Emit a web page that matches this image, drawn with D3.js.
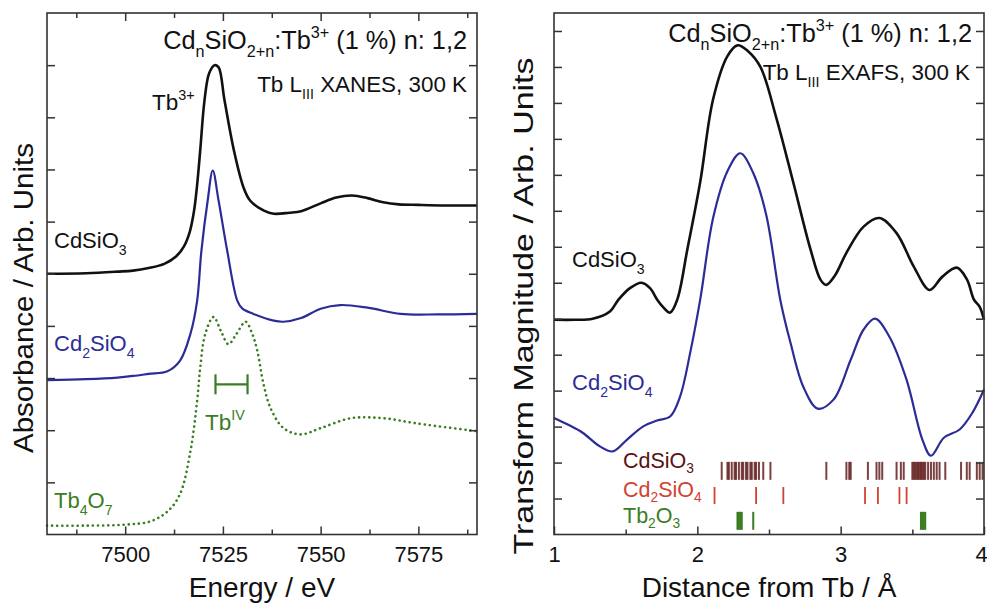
<!DOCTYPE html>
<html>
<head>
<meta charset="utf-8">
<script src="https://cdn.jsdelivr.net/npm/d3@7"></script>
<style>
  body { margin: 0; background: #fff; }
  text { font-family: "Liberation Sans", Arial, sans-serif; white-space: pre; }
</style>
</head>
<body>
<div id="chart"></div>
<script>
// ---- XANES (left panel): [energy eV, absorbance arb.] ----
var xanesCdSiO3 = [[7480,5.0],[7490,5.01],[7498,5.04],[7502,5.06],[7506,5.11],[7510,5.19],[7513,5.33],
  [7515,5.52],[7516.5,5.8],[7517.6,6.2],[7518.4,6.7],[7519.2,7.37],[7520.3,8.33],[7521.5,8.85],[7522.9,9.0],
  [7523.9,8.96],[7525.4,8.33],[7527.8,7.37],[7530.3,6.65],[7532,6.4],[7535.5,6.21],[7538,6.15],
  [7542,6.17],[7545,6.2],[7550,6.35],[7554,6.46],[7558,6.5],[7562,6.45],[7566,6.37],[7570,6.33],
  [7575,6.32],[7582,6.31],[7590,6.31]];
var xanesCd2SiO4 = [[7480,2.96],[7490,2.98],[7498,3.01],[7502,3.04],[7506,3.08],[7510.8,3.13],[7514,3.33],
  [7516.7,3.85],[7518.4,4.48],[7519.5,5.44],[7521.1,6.4],[7522.4,6.98],[7523.9,6.4],[7526.1,5.44],
  [7528.7,4.48],[7530,4.33],[7532.8,4.23],[7538,4.1],[7540.5,4.08],[7545,4.15],[7550,4.33],[7555,4.4],
  [7562,4.35],[7570.5,4.23],[7580,4.22],[7590,4.23]];
var xanesTb4O7 = [[7480,0.17],[7490,0.17],[7500,0.19],[7506.4,0.25],[7510.8,0.44],[7514,0.77],[7516.7,1.6],
  [7518.4,2.56],[7519.2,3.2],[7520.5,3.85],[7522.6,4.17],[7524.5,3.9],[7526.4,3.65],[7528.5,3.85],
  [7530.8,4.08],[7532.5,3.85],[7533.8,3.52],[7535.4,2.88],[7537.2,2.42],[7540.5,2.04],[7544.9,1.92],
  [7550,2.04],[7557.7,2.23],[7566,2.23],[7574.6,2.13],[7590,1.98]];
var tbIVRange = [7523.1, 7531.3];
var tbIVLevel = 2.88;
var energyTicks = [7500, 7525, 7550, 7575];
var energyMinor = [7487.5, 7512.5, 7537.5, 7562.5, 7587.5];

// ---- EXAFS (right panel): [distance A, magnitude arb.] ----
var exafsCdSiO3 = [[1.0,5.97],[1.15,5.97],[1.27,6.0],[1.39,6.2],[1.45,6.53],[1.53,6.85],[1.61,7.0],
  [1.67,6.85],[1.72,6.53],[1.76,6.33],[1.81,6.17],[1.86,6.53],[1.93,7.92],[2.02,9.8],[2.11,12.1],
  [2.21,13.3],[2.28,13.6],[2.35,13.45],[2.44,13.0],[2.55,11.6],[2.67,9.78],[2.79,7.92],[2.86,7.08],
  [2.9,6.94],[2.96,7.2],[3.04,7.83],[3.16,8.56],[3.27,8.8],[3.39,8.38],[3.51,7.45],[3.62,6.8],
  [3.71,7.17],[3.81,7.42],[3.88,7.1],[3.93,6.53],[3.97,6.33],[4.0,5.97]];
var exafsCd2SiO4 = [[1.0,3.24],[1.1,3.05],[1.2,2.83],[1.32,2.45],[1.41,2.31],[1.51,2.64],[1.62,3.0],
  [1.72,3.17],[1.81,3.28],[1.88,3.84],[1.95,5.05],[2.02,6.53],[2.11,8.8],[2.21,10.1],[2.3,10.6],
  [2.39,10.05],[2.48,8.9],[2.58,6.5],[2.65,5.33],[2.74,4.1],[2.84,3.5],[2.95,3.75],[3.07,4.86],
  [3.16,5.7],[3.24,6.0],[3.34,5.5],[3.46,4.3],[3.57,2.64],[3.63,2.19],[3.72,2.69],[3.83,2.92],
  [3.92,3.39],[4.0,4.03]];
var sticksCdSiO3 = [2.17,2.21,2.22,2.24,2.26,2.27,2.29,2.31,2.32,2.34,2.35,2.37,2.38,2.40,2.41,2.43,
  2.46,2.51,2.90,3.04,3.06,3.07,3.19,3.25,3.27,3.29,3.39,3.42,3.44,3.50,3.51,3.52,3.53,3.54,3.55,
  3.56,3.57,3.58,3.59,3.61,3.63,3.65,3.67,3.69,3.73,3.84,3.88,3.90,3.95,3.97,3.99];
var sticksCd2SiO4 = [2.12,2.41,2.60,3.17,3.26,3.41,3.46];
var sticksTb2O3 = [2.28,2.29,2.30,2.31,2.39,3.56,3.57,3.58,3.59];
var distanceTicks = [1, 2, 3, 4];
var distanceMinor = [1.5, 2.5, 3.5];

var black = "#111", blue = "#2c2c96", green = "#3a7d22", maroon = "#5a1212", red = "#d1432f";

var svg = d3.select("#chart").append("svg")
    .attr("width", 987)
    .attr("height", 604);

var x1 = d3.scaleLinear().domain([7480, 7590]).range([47, 477]);
var y1 = d3.scaleLinear().domain([0, 10]).range([534.5, 13]);
var x2 = d3.scaleLinear().domain([1, 4]).range([554, 984]);
var y2 = d3.scaleLinear().domain([0, 14.5]).range([534.5, 13]);

// text with sub/superscripts, parts = [[text, "sub"|"sup"|null], ...]
function rich(x, y, parts, size, color, anchor, subShift) {
  var t = svg.append("text")
      .attr("x", x).attr("y", y)
      .attr("font-size", size)
      .attr("fill", color)
      .attr("text-anchor", anchor || "start");
  var shift = 0;
  parts.forEach(function(p) {
    var target = p[1] === "sub" ? size * (subShift || 0.32) : p[1] === "sup" ? -size * 0.45 : 0;
    t.append("tspan")
      .attr("dy", target - shift)
      .attr("font-size", p[1] ? size * 0.64 : size)
      .text(p[0]);
    shift = target;
  });
  return t;
}

function frame(x, y, ticksTop) {
  var xr = x.range(), yr = y.range();
  var g = svg.append("g");
  var yt = d3.range(1, Math.floor(y.domain()[1]) + 1).filter(function(d) { return d < y.domain()[1]; });

  g.append("g").attr("transform", "translate(0," + yr[0] + ")")
    .call(d3.axisBottom(x).tickValues(x === x1 ? energyTicks : distanceTicks).tickSize(-8).tickPadding(12).tickFormat(d3.format("d")))
    .call(function(a) {
      a.select(".domain").remove();
      a.selectAll("text").attr("font-size", 22).attr("fill", "#111").style("font-family", "Liberation Sans, Arial, sans-serif");
      // last label sits on the page edge, nudge it in
      a.selectAll("text").filter(function(d) { return d === 4; }).attr("x", -3);
    });
  g.append("g").attr("transform", "translate(0," + yr[0] + ")")
    .call(d3.axisBottom(x).tickValues(x === x1 ? energyMinor : distanceMinor).tickSize(-5).tickFormat(""))
    .call(function(a) { a.select(".domain").remove(); });
  if (ticksTop) {
    g.append("g").attr("transform", "translate(0," + yr[1] + ")")
      .call(d3.axisTop(x).tickValues(energyTicks).tickSize(-8).tickFormat(""))
      .call(function(a) { a.select(".domain").remove(); });
    g.append("g").attr("transform", "translate(0," + yr[1] + ")")
      .call(d3.axisTop(x).tickValues(energyMinor).tickSize(-5).tickFormat(""))
      .call(function(a) { a.select(".domain").remove(); });
  }
  g.append("g").attr("transform", "translate(" + xr[0] + ",0)")
    .call(d3.axisLeft(y).tickValues(yt).tickSize(-8).tickFormat(""))
    .call(function(a) { a.select(".domain").remove(); });
  g.append("g").attr("transform", "translate(" + xr[1] + ",0)")
    .call(d3.axisRight(y).tickValues(yt).tickSize(-8).tickFormat(""))
    .call(function(a) { a.select(".domain").remove(); });
  g.selectAll(".tick line").attr("stroke", "#333").attr("stroke-width", 1.5);

  g.append("rect")
    .attr("x", xr[0]).attr("y", yr[1])
    .attr("width", xr[1] - xr[0]).attr("height", yr[0] - yr[1])
    .attr("fill", "none")
    .attr("stroke", "#333")
    .attr("stroke-width", 1.6);
}

function curve(x, y, data, color, width, dash) {
  var line = d3.line()
    .x(function(d) { return x(d[0]); })
    .y(function(d) { return y(d[1]); })
    .curve(d3.curveCatmullRom.alpha(0.5));
  var p = svg.append("path")
    .datum(data)
    .attr("d", line)
    .attr("fill", "none")
    .attr("stroke", color)
    .attr("stroke-width", width)
    .attr("stroke-linejoin", "round");
  if (dash) p.attr("stroke-dasharray", dash).attr("stroke-linecap", "round");
}

// ---------- left panel ----------
curve(x1, y1, xanesTb4O7, green, 2.6, "0.1,5");
curve(x1, y1, xanesCd2SiO4, blue, 2.2);
curve(x1, y1, xanesCdSiO3, black, 2.6);

var br = svg.append("g").attr("stroke", green).attr("stroke-width", 2.2);
br.append("line").attr("x1", x1(tbIVRange[0])).attr("x2", x1(tbIVRange[1]))
  .attr("y1", y1(tbIVLevel)).attr("y2", y1(tbIVLevel));
tbIVRange.forEach(function(e) {
  br.append("line").attr("x1", x1(e)).attr("x2", x1(e))
    .attr("y1", y1(tbIVLevel) - 10).attr("y2", y1(tbIVLevel) + 10);
});

frame(x1, y1, true);

rich(467, 49, [["Cd"],["n","sub"],["SiO"],["2+n","sub"],[":Tb"],["3+","sup"],[" (1 %) n: 1,2"]], 25.3, black, "end");
rich(467, 92, [["Tb L"],["III","sub"],[" XANES, 300 K"]], 22.4, black, "end");
rich(152, 110, [["Tb"],["3+","sup"]], 22.5, black);
rich(54, 248, [["CdSiO"],["3","sub"]], 22, black);
rich(54, 351, [["Cd"],["2","sub"],["SiO"],["4","sub"]], 22, blue);
rich(205, 430, [["Tb"],["IV","sup"]], 22.5, green);
rich(54, 508, [["Tb"],["4","sub"],["O"],["7","sub"]], 22, green);

svg.append("text")
  .text("Energy / eV")
  .attr("x", 262).attr("y", 597)
  .attr("text-anchor", "middle")
  .attr("font-size", 28)
  .attr("fill", black);
svg.append("text")
  .text("Absorbance / Arb. Units")
  .attr("transform", "translate(33,298) rotate(-90)")
  .attr("text-anchor", "middle")
  .attr("font-size", 27)
  .attr("textLength", 310)
  .attr("lengthAdjust", "spacingAndGlyphs")
  .attr("fill", black);

// ---------- right panel ----------
curve(x2, y2, exafsCd2SiO4, blue, 2.2);
curve(x2, y2, exafsCdSiO3, black, 2.6);

function sticks(data, color, top, bottom, width, opacity) {
  svg.append("g").selectAll("line")
    .data(data)
    .enter().append("line")
    .attr("x1", function(d) { return x2(d); })
    .attr("x2", function(d) { return x2(d); })
    .attr("y1", y2(top))
    .attr("y2", y2(bottom))
    .attr("stroke", color)
    .attr("stroke-width", width)
    .attr("stroke-opacity", opacity);
}
sticks(sticksCdSiO3, maroon, 2.02, 1.52, 2, 0.8);
sticks(sticksCd2SiO4, red, 1.32, 0.85, 1.8, 1);
sticks(sticksTb2O3, green, 0.63, 0.13, 2, 1);

frame(x2, y2, false);

rich(972, 42, [["Cd"],["n","sub"],["SiO"],["2+n","sub"],[":Tb"],["3+","sup"],[" (1 %) n: 1,2"]], 25.3, black, "end");
rich(970, 80, [["Tb L"],["III","sub"],[" EXAFS, 300 K"]], 22.4, black, "end");
rich(572, 267, [["CdSiO"],["3","sub"]], 22, black);
rich(572, 390, [["Cd"],["2","sub"],["SiO"],["4","sub"]], 22, blue);
rich(623, 468, [["CdSiO"],["3","sub"]], 21.5, maroon, "start", 0.24);
rich(623, 497, [["Cd"],["2","sub"],["SiO"],["4","sub"]], 21.5, red, "start", 0.24);
rich(623, 523, [["Tb"],["2","sub"],["O"],["3","sub"]], 21.5, green, "start", 0.24);

svg.append("text")
  .text("Distance from Tb / \u00c5")
  .attr("x", 769).attr("y", 597)
  .attr("text-anchor", "middle")
  .attr("font-size", 28)
  .attr("fill", black);
svg.append("text")
  .text("Transform Magnitude / Arb. Units")
  .attr("transform", "translate(533,306) rotate(-90)")
  .attr("text-anchor", "middle")
  .attr("font-size", 27)
  .attr("textLength", 497)
  .attr("lengthAdjust", "spacingAndGlyphs")
  .attr("fill", black);
</script>
</body>
</html>
